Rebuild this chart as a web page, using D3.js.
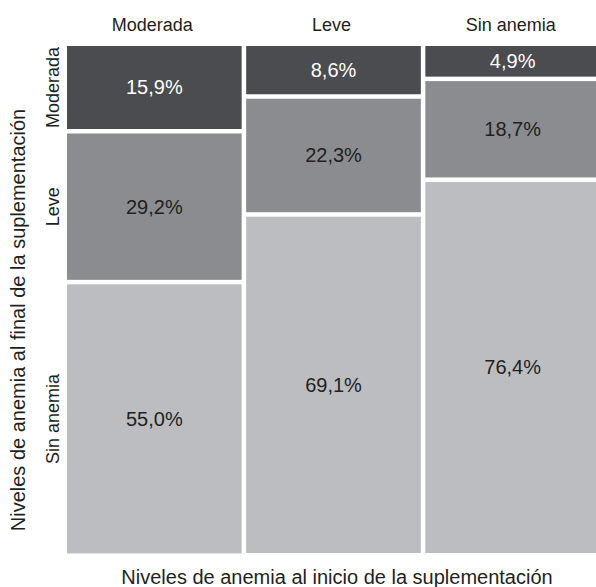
<!DOCTYPE html>
<html>
<head>
<meta charset="utf-8">
<script src="https://cdn.jsdelivr.net/npm/d3@7"></script>
<style>
  body { margin: 0; background: #fff; }
  svg { display: block; font-family: "Liberation Sans", Arial, sans-serif; }
</style>
</head>
<body>
<svg id="chart"></svg>
<script>
// anemia level at start (columns) and at end (rows)
var startLevels = ["Moderada", "Leve", "Sin anemia"];
var endLevels = ["Moderada", "Leve", "Sin anemia"];

// percentages of end level within each start level
var pctModerada = [15.9, 29.2, 55.0];
var pctLeve = [8.6, 22.3, 69.1];
var pctSinAnemia = [4.9, 18.7, 76.4];

var xTitle = "Niveles de anemia al inicio de la suplementación";
var yTitle = "Niveles de anemia al final de la suplementación";

var width = 596, height = 587;
var plotTop = 46, plotBottom = 553, plotLeft = 67, plotRight = 600;
var gap = 4.5;     // white space between cells
var cellPad = 7.3; // fixed extra height every cell gets

var cellColor = ["#4b4c4f", "#8b8c90", "#bcbdc1"];
var textColor = ["#ffffff", "#231f20", "#231f20"];

var svg = d3.select("#chart").attr("width", width).attr("height", height);

var columns = [pctModerada, pctLeve, pctSinAnemia];

var x = d3.scaleBand()
  .domain(startLevels)
  .range([plotLeft, plotRight])
  .paddingInner(gap / 179)
  .paddingOuter(0);

var n = endLevels.length;
var h = d3.scaleLinear()
  .domain([0, 100])
  .range([0, plotBottom - plotTop - (n - 1) * gap - n * cellPad]);

// build cells, stacked from the top
var cells = [];
columns.forEach(function(vals, ci) {
  var yPos = plotTop;
  vals.forEach(function(v, ri) {
    var ch = h(v) + cellPad;
    cells.push({col: startLevels[ci], row: ri, y: yPos, h: ch, value: v});
    yPos += ch + gap;
  });
});

var g = svg.append("g");

g.selectAll("rect")
  .data(cells)
  .enter().append("rect")
  .attr("x", function(d) { return x(d.col); })
  .attr("y", function(d) { return d.y; })
  .attr("width", x.bandwidth())
  .attr("height", function(d) { return d.h; })
  .attr("fill", function(d) { return cellColor[d.row]; });

g.selectAll("text.pct")
  .data(cells)
  .enter().append("text")
  .attr("class", "pct")
  .attr("x", function(d) { return x(d.col) + x.bandwidth() / 2; })
  .attr("y", function(d) { return d.y + d.h / 2; })
  .attr("dy", "0.35em")
  .attr("text-anchor", "middle")
  .attr("font-size", 20)
  .attr("fill", function(d) { return textColor[d.row]; })
  .text(function(d) { return d.value.toFixed(1).replace(".", ",") + "%"; });

// column labels on top
svg.selectAll("text.colLabel")
  .data(startLevels)
  .enter().append("text")
  .attr("class", "colLabel")
  .attr("x", function(d) { return x(d) + x.bandwidth() / 2 - 2; })
  .attr("y", 31)
  .attr("text-anchor", "middle")
  .attr("font-size", 18)
  .attr("fill", "#231f20")
  .text(function(d) { return d; });

// row labels, aligned with the first column's cells
var firstCol = cells.filter(function(d) { return d.col === startLevels[0]; });
svg.selectAll("text.rowLabel")
  .data(firstCol)
  .enter().append("text")
  .attr("class", "rowLabel")
  .attr("transform", function(d) {
    return "translate(59," + (d.y + d.h / 2) + ") rotate(-90)";
  })
  .attr("text-anchor", "middle")
  .attr("font-size", 18)
  .attr("fill", "#231f20")
  .text(function(d) { return endLevels[d.row]; });

// axis titles
svg.append("text")
  .attr("x", 337)
  .attr("y", 584)
  .attr("text-anchor", "middle")
  .attr("font-size", 20)
  .attr("fill", "#231f20")
  .text(xTitle);

svg.append("text")
  .attr("transform", "translate(25,320) rotate(-90)")
  .attr("text-anchor", "middle")
  .attr("font-size", 20)
  .attr("fill", "#231f20")
  .text(yTitle);
</script>
</body>
</html>
